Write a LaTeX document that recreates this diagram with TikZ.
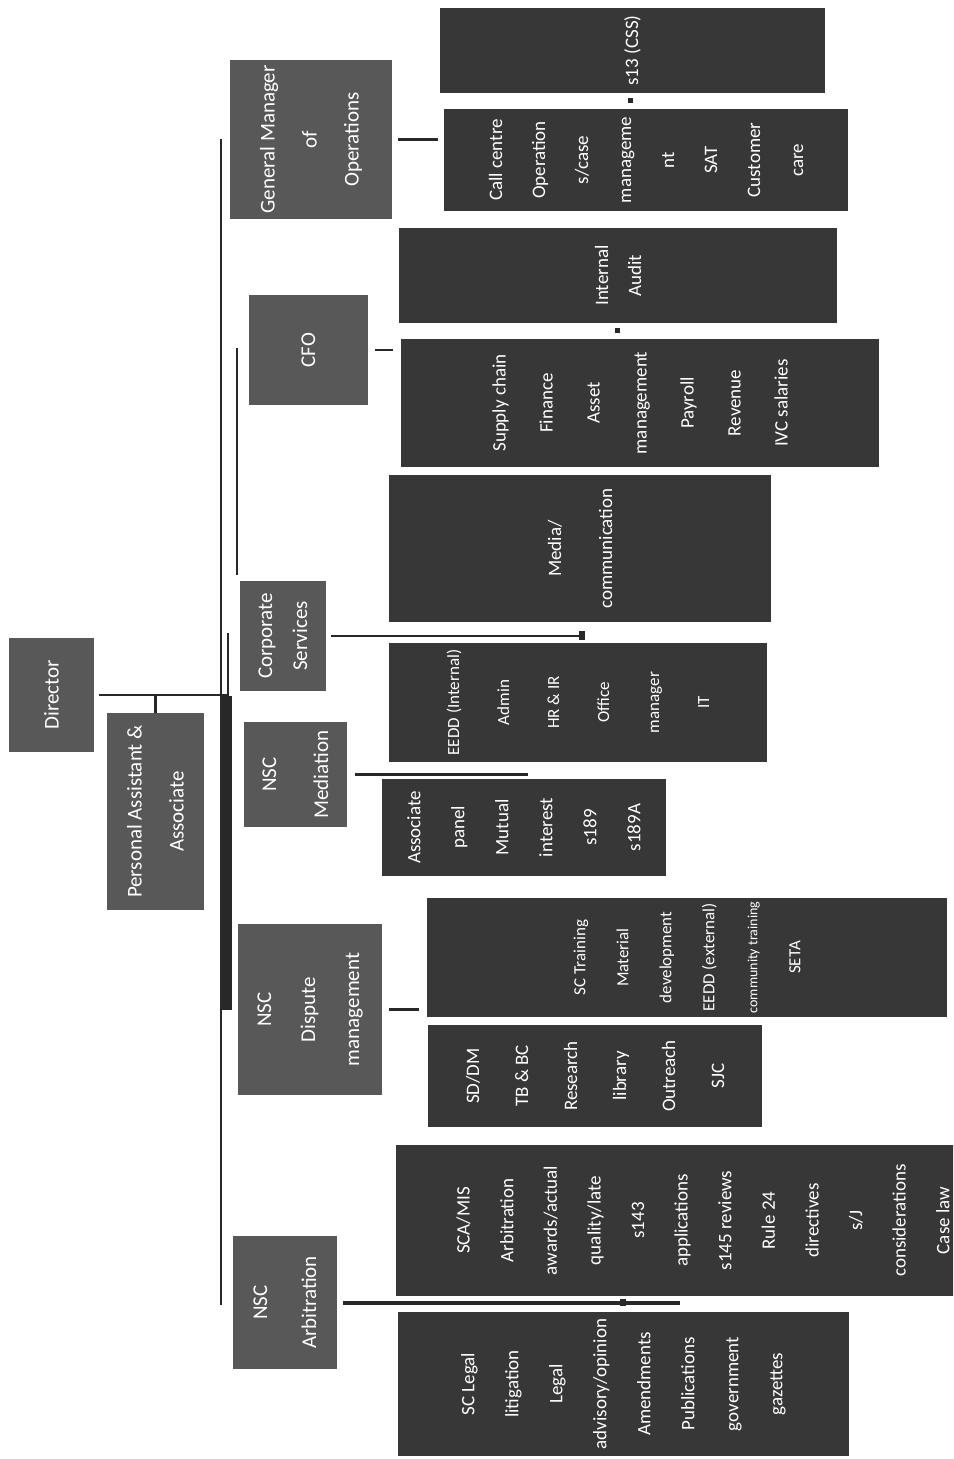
\documentclass[tikz,border=0pt]{standalone}
\usepackage{fontspec}
\setmainfont{Carlito}
\usetikzlibrary{calc}
\definecolor{headc}{RGB}{88,88,88}
\definecolor{leafc}{RGB}{55,55,55}
\definecolor{linec}{RGB}{40,40,40}

\tikzset{
  box/.style={rectangle,rotate=90,inner sep=0pt,text=white,align=center},
  headbox/.style={box,fill=headc,font=\fontsize{10.5}{#1}\selectfont},
  headbox/.default=21,
  leafbox/.style={box,fill=leafc,font=\fontsize{9.5}{#1}\selectfont},
  leafbox/.default=22,
  link/.style={linec,line width=1.4pt},
}

\begin{document}
\begin{tikzpicture}[x=0.5pt,y=-0.5pt]
  \useasboundingbox (0,0) rectangle (953,1459);
  \clip (0,0) rectangle (953,1459);
  \fill[white] (0,0) rectangle (953,1459);

  % top of the chart
  \node[headbox,minimum width=57pt,minimum height=42.5pt] (dir) at (51.5,695) {Director};
  \node[headbox,minimum width=98.5pt,minimum height=48.5pt] (pa) at (155.5,811.5) {Personal Assistant \&\\Associate};

  % units
  \node[headbox,minimum width=79.5pt,minimum height=81pt] (gm) at (311,139.5) {General Manager\\of\\Operations};
  \node[headbox,minimum width=55pt,minimum height=59.5pt] (cfo) at (308.5,350) {CFO};
  \node[headbox=17.5,minimum width=55pt,minimum height=43pt] (corp) at (283,636) {Corporate\\Services};
  \node[headbox=26,minimum width=52.5pt,minimum height=51.5pt] (med) at (295.5,774.5) {NSC\\Mediation};
  \node[headbox=22,minimum width=85.5pt,minimum height=72pt] (disp) at (310,1009.5) {NSC\\Dispute\\management};
  \node[headbox=24.5,minimum width=66.5pt,minimum height=52pt] (arb) at (285,1302.5) {NSC\\Arbitration};

  % sections
  \node[leafbox,minimum width=42.5pt,minimum height=192.5pt] (css) at (632.5,50.5) {s13 (CSS)};
  \node[leafbox=21.5,minimum width=51pt,minimum height=202pt] (call) at (646,160)
    {Call centre\\Operation\\s/case\\manageme\\nt\\SAT\\Customer\\care};
  \node[leafbox=16.5,minimum width=47.5pt,minimum height=219pt] (audit) at (618,275.5) {Internal\\Audit};
  \node[leafbox=23.5,minimum width=64pt,minimum height=239pt] (supply) at (640,403)
    {Supply chain\\Finance\\Asset\\management\\Payroll\\Revenue\\IVC salaries};
  \node[leafbox=25.5,minimum width=73.5pt,minimum height=191pt] (media) at (580,548.5) {Media/\\communication};
  \node[leafbox=25,font=\fontsize{8.5}{25}\selectfont,minimum width=59.5pt,minimum height=189pt] (eedd) at (578,702.5)
    {EEDD (Internal)\\Admin\\HR \& IR\\Office\\manager\\IT};
  \node[leafbox=22,minimum width=48.5pt,minimum height=142pt] (assoc) at (524,827.5)
    {Associate\\panel\\Mutual\\interest\\s189\\s189A};
  \node[leafbox=21.5,font=\fontsize{8.5}{21.5}\selectfont,minimum width=59.5pt,minimum height=260pt] (train) at (687,957.5)
    {SC Training\\Material\\development\\EEDD (external)\\{\fontsize{7}{8}\selectfont community training}\\SETA};
  \node[leafbox=24.5,minimum width=51pt,minimum height=167pt] (sdl) at (595,1076)
    {SD/DM\\TB \& BC\\Research\\library\\Outreach\\SJC};
  \node[leafbox=21.8,minimum width=75.5pt,minimum height=307pt] (sca) at (703,1220.5)
    {SCA/MIS\\Arbitration\\awards/actual\\quality/late\\s143\\applications\\s145 reviews\\Rule 24\\directives\\s/J\\considerations\\Case law};
  \node[leafbox=22,minimum width=72pt,minimum height=225.5pt] (legal) at (623.5,1384)
    {SC Legal\\litigation\\Legal\\advisory/opinion\\Amendments\\Publications\\government\\gazettes};

  % trunk
  \coordinate (ttop) at (221,139);
  \coordinate (tbot) at (221,1305);
  \coordinate (hub) at (227,696);
  \coordinate (tmid) at (227,1010);
  \coordinate (cfa) at (237,348);
  \coordinate (cfb) at (237,575);
  \coordinate (cpa) at (228,633);
  \draw[link] (ttop) -- (tbot);
  \draw[linec,line width=5pt] (hub) -- (tmid);
  \draw[link] (cfa) -- (cfb);
  \draw[link] (cpa) -- (cpa |- hub);
  \draw[link,shorten <=2.5pt] (dir.south) -- (dir.south -| hub);
  \draw[link] (pa.east) -- (pa.east |- dir.south);

  % branches
  \coordinate (corpend) at (583,636);
  \coordinate (medend) at (528,774.5);
  \coordinate (arbend) at (680,1302.5);
  \draw[link,shorten <=3pt,shorten >=3pt] (gm.south) -- (gm.south -| call.north);
  \draw[link,shorten <=3.5pt,shorten >=4pt] (cfo.south) -- (cfo.south -| supply.north);
  \draw[link,line width=1.1pt,shorten <=2.5pt] (corp.south) -- (corpend);
  \draw[link,shorten <=4pt] (med.south) -- (medend);
  \draw[link,shorten <=3.5pt,shorten >=4pt] (disp.south) -- (disp.south -| train.north);
  \draw[link,line width=2pt,shorten <=3pt] (arb.south) -- (arbend);

  % small marks
  \fill[linec] (628,98) rectangle (633,103);
  \fill[linec] (615,328) rectangle (620,333);
  \fill[linec] (579,631) rectangle (585,640);
  \fill[linec] (620,1299) rectangle (626,1306);
\end{tikzpicture}
\end{document}
